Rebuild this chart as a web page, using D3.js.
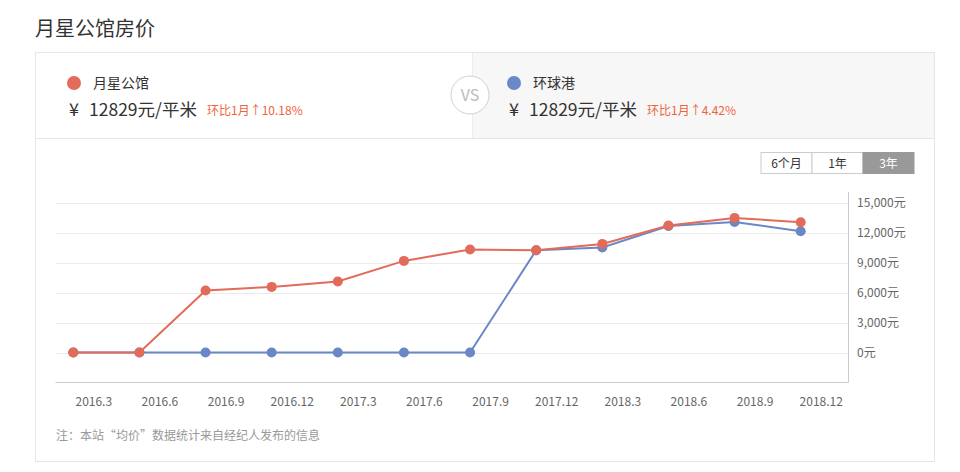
<!DOCTYPE html>
<html>
<head>
<meta charset="utf-8">
<script src="https://d3js.org/d3.v7.min.js"></script>
<style>
  body { margin: 0; background: #fff; }
  text { font-family: "Noto Sans CJK SC", "Noto Sans", sans-serif; }
</style>
</head>
<body>
<svg class="target"></svg>
<script>

// data
months = ['2016.3', '2016.6', '2016.9', '2016.12', '2017.3', '2017.6', '2017.9', '2017.12', '2018.3', '2018.6', '2018.9', '2018.12']
yuexing = [0, 0, 6200, 6560, 7100, 9160, 10300, 10230, 10860, 12700, 13460, 13030]
huanqiu = [0, 0, 0, 0, 0, 0, 0, 10230, 10500, 12650, 13060, 12130]
yTicks = [0, 3000, 6000, 9000, 12000, 15000]
ranges = ['6个月', '1年', '3年']

red = '#e26b59'
blue = '#6a87c6'

width = 960
height = 472

svg = d3.select('.target')
      .attr('width', width)
      .attr('height', height)

// page title
svg.append('text')
    .attr('x', 35).attr('y', 36)
    .style('font-size', '20px').style('fill', '#333')
    .text('月星公馆房价')

// outer box
svg.append('rect')
    .attr('x', 35.5).attr('y', 52.5)
    .attr('width', 899).attr('height', 409)
    .style('fill', 'none').style('stroke', '#e6e6e6')

// compare header: right half is grey
svg.append('rect')
    .attr('x', 472).attr('y', 53)
    .attr('width', 462).attr('height', 85)
    .style('fill', '#f7f7f7')
svg.append('line')
    .attr('x1', 36).attr('x2', 934).attr('y1', 138.5).attr('y2', 138.5)
    .style('stroke', '#e6e6e6')
svg.append('line')
    .attr('x1', 472.5).attr('x2', 472.5).attr('y1', 53).attr('y2', 138)
    .style('stroke', '#ececec')

cards = [
  { name: '月星公馆', price: '12829', change: '环比1月↑10.18%', color: red, x: 68 },
  { name: '环球港', price: '12829', change: '环比1月↑4.42%', color: blue, x: 508 }
]

card = svg.selectAll('g.card')
    .data(cards)
    .join('g')
      .attr('class', 'card')
      .attr('transform', d => `translate(${d.x},0)`)

card.append('circle')
    .attr('cx', 6).attr('cy', 83).attr('r', 7)
    .style('fill', d => d.color)
card.append('text')
    .attr('x', 25).attr('y', 88)
    .style('font-size', '14px').style('fill', '#333')
    .text(d => d.name)
card.append('text')
    .attr('x', 1).attr('y', 116)
    .style('font-size', '18px').style('fill', '#333')
    .text('¥')
card.append('text')
    .attr('x', 21).attr('y', 116)
    .style('font-size', '17.5px').style('fill', '#333')
    .text(d => d.price + '元/平米')
card.append('text')
    .attr('x', 139)
    .attr('y', 115)
    .style('font-size', '12px').style('fill', '#f0643c')
    .text(d => d.change)

// vs badge
svg.append('circle')
    .attr('cx', 470).attr('cy', 95).attr('r', 19)
    .style('fill', '#fff').style('stroke', '#d0d0d0')
svg.append('text')
    .attr('x', 470).attr('y', 101)
    .attr('text-anchor', 'middle')
    .style('font-size', '16px').style('fill', '#bbb')
    .text('VS')

// range buttons
bw = 51
btn = svg.selectAll('g.btn')
    .data(ranges)
    .join('g')
      .attr('class', 'btn')
      .attr('transform', (d, i) => `translate(${761 + bw * i},152.5)`)
btn.append('rect')
    .attr('width', bw).attr('height', 21)
    .style('fill', (d, i) => i == 2 ? '#999' : '#fff')
    .style('stroke', (d, i) => i == 2 ? '#999' : '#ccc')
btn.append('text')
    .attr('x', bw / 2).attr('y', 15)
    .attr('text-anchor', 'middle')
    .style('font-size', '12px')
    .style('fill', (d, i) => i == 2 ? '#fff' : '#333')
    .text(d => d)

// chart
left = 55.5
right = 848.5

x = d3.scalePoint()
    .domain(months)
    .range([73.3, 800.7])

y = d3.scaleLinear()
    .domain([-3000, 15000])
    .range([382.5, 202.5])

// horizontal gridlines
svg.append('g')
    .selectAll('line')
    .data(yTicks)
    .join('line')
      .attr('x1', left).attr('x2', right)
      .attr('y1', d => Math.round(y(d)) + 0.5)
      .attr('y2', d => Math.round(y(d)) + 0.5)
      .style('stroke', '#ebebeb')

// y labels on the right
svg.append('g')
    .selectAll('text')
    .data(yTicks)
    .join('text')
      .attr('x', 857)
      .attr('y', d => y(d))
      .attr('dy', '0.35em')
      .style('font-size', '12px').style('fill', '#666')
      .text(d => d3.format(',')(d) + '元')

// axis lines
svg.append('line')
    .attr('x1', right).attr('x2', right).attr('y1', 192).attr('y2', 382.5)
    .style('stroke', '#ccc')

xAxis = svg.append('g')
    .attr('transform', 'translate(0,382.5)')
    .call(d3.axisBottom(x).tickSize(0).tickPadding(15))
xAxis.select('.domain').remove()
xAxis.append('line')
    .attr('x1', left).attr('x2', right)
    .style('stroke', '#ccc')
xAxis.selectAll('text')
    .attr('dx', 20)
    .style('font-size', '12px').style('fill', '#666')
    .style('font-family', '"Noto Sans CJK SC", sans-serif')

// series lines + dots (blue under red)
series = [
  { name: '环球港', values: huanqiu, color: blue },
  { name: '月星公馆', values: yuexing, color: red }
]

line = d3.line()
    .x((d, i) => x(months[i]))
    .y(d => y(d))

s = svg.selectAll('g.series')
    .data(series)
    .join('g')
      .attr('class', 'series')

s.append('path')
    .attr('d', d => line(d.values))
    .style('fill', 'none')
    .style('stroke', d => d.color)
    .style('stroke-width', 2)

s.each(function(d) {
  d3.select(this).selectAll('circle')
    .data(d.values)
    .join('circle')
      .attr('cx', (v, i) => x(months[i]))
      .attr('cy', v => y(v))
      .attr('r', 5)
      .style('fill', d.color)
})

// footnote
svg.append('text')
    .attr('x', 56).attr('y', 440)
    .style('font-size', '12px').style('fill', '#999')
    .text('注：本站“均价”数据统计来自经纪人发布的信息')

</script>
</body>
</html>
